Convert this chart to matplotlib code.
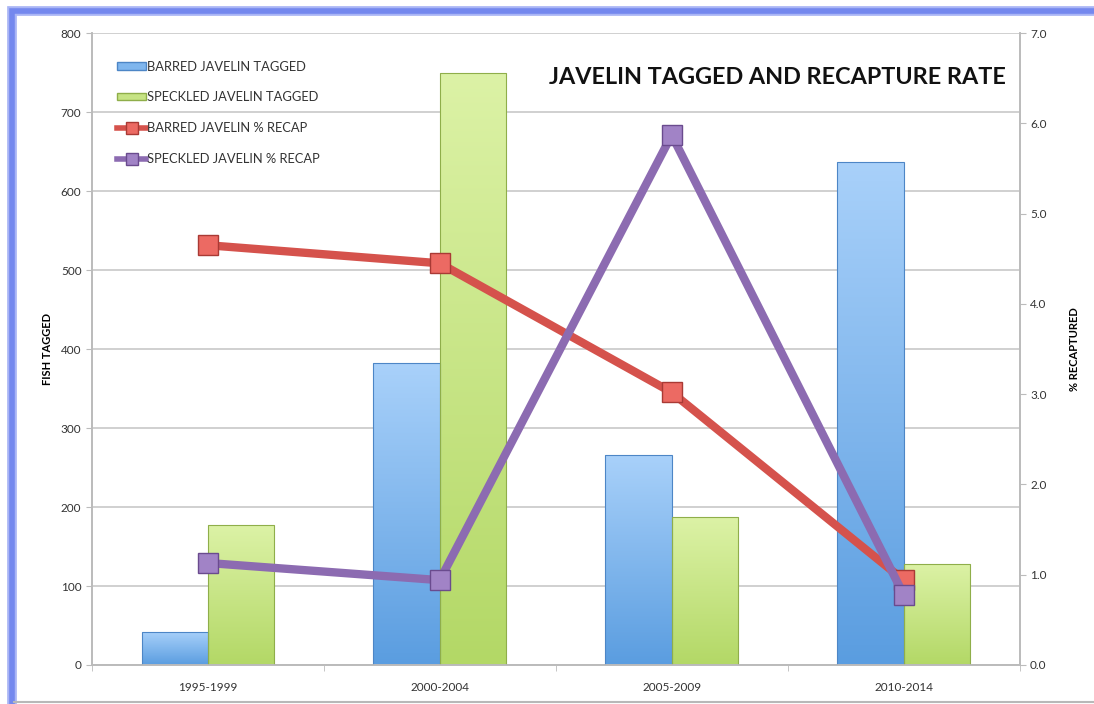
import numpy as np
import matplotlib.pyplot as plt
from matplotlib.patches import Rectangle, Patch
from matplotlib.lines import Line2D
from matplotlib.colors import LinearSegmentedColormap

# data
periods = ['1995-1999', '2000-2004', '2005-2009', '2010-2014']
barred_tagged = [42, 382, 266, 637]
speckled_tagged = [177, 749, 187, 128]
barred_recap = [4.65, 4.45, 3.02, 0.94]
speckled_recap = [1.13, 0.94, 5.87, 0.78]

plt.rcParams['font.family'] = ['Lato', 'DejaVu Sans']

fig = plt.figure(figsize=(10.94, 7.04), dpi=100)

# blue frame on the left and top, grey edge at the bottom
W, H = 1094, 704
fig.patches.append(Rectangle((11.5 / W, -0.1), 1.2, 1.1 - 11.5 / H, transform=fig.transFigure,
                             fill=False, edgecolor='#a9b5f5', linewidth=7, zorder=0))
fig.patches.append(Rectangle((11.5 / W, -0.1), 1.2, 1.1 - 11.5 / H, transform=fig.transFigure,
                             fill=False, edgecolor='#7488ee', linewidth=4, zorder=0))
fig.add_artist(Line2D([14 / W, 1], [2.5 / H, 2.5 / H], transform=fig.transFigure,
                      color='#b8b8b8', linewidth=1.5))

ax = fig.add_axes([0.084, 0.0554, 0.848, 0.8976])
ax2 = ax.twinx()

x = np.arange(len(periods))
w = 0.286

blue_cmap = LinearSegmentedColormap.from_list('b', ['#5a9de0', '#a9d1fa'])
green_cmap = LinearSegmentedColormap.from_list('g', ['#b3d866', '#dcf2a6'])

def gradient_bars(xs, heights, cmap, edge):
    bars = ax.bar(xs, heights, w, color='none', edgecolor=edge, linewidth=0.8, zorder=3)
    grad = np.linspace(0, 1, 256).reshape(-1, 1)
    for b in bars:
        im = ax.imshow(grad, cmap=cmap, origin='lower', aspect='auto',
                       extent=[b.get_x(), b.get_x() + b.get_width(), 0, b.get_height()],
                       zorder=2)
        im.set_clip_path(b)
    return bars

gradient_bars(x - w / 2, barred_tagged, blue_cmap, '#4d86c6')
gradient_bars(x + w / 2, speckled_tagged, green_cmap, '#8fae4a')

ax.set_xlim(-0.5, 3.5)
ax.set_ylim(0, 800)
ax.set_yticks(range(0, 801, 100))
ax.set_xticks(x)
ax.set_xticklabels(periods)
ax.set_xticks(np.arange(-0.5, 4, 1), minor=True)
ax.tick_params(axis='x', which='major', length=0, pad=12, labelsize=8.5, colors='#333333')
ax.tick_params(axis='x', which='minor', length=4, color='#bbbbbb')
ax.tick_params(axis='y', length=4, color='#bbbbbb', labelsize=8.5, colors='#333333')
ax.grid(axis='y', color='#c8c8c8', linewidth=1.2, zorder=0)
ax.set_axisbelow(True)
ax.set_ylabel('FISH TAGGED', fontsize=8, fontweight='bold', labelpad=6)

ax2.set_ylim(0, 7)
ax2.set_yticks(np.arange(0, 7.1, 1))
ax2.set_yticklabels([f'{v:.1f}' for v in np.arange(0, 7.1, 1)])
ax2.tick_params(axis='y', length=4, color='#bbbbbb', labelsize=8.5, colors='#333333')
ax2.set_ylabel('% RECAPTURED', fontsize=8, fontweight='bold', labelpad=16)

for a in (ax, ax2):
    for s in a.spines.values():
        s.set_color('#bbbbbb')
        s.set_linewidth(1.2)
    a.spines['top'].set_visible(False)

ax2.plot(x, barred_recap, color='#d5524c', linewidth=6, marker='s', markersize=15,
         markerfacecolor='#ec6a63', markeredgecolor='#a93a35', markeredgewidth=1,
         zorder=5, solid_capstyle='round')
ax2.plot(x, speckled_recap, color='#8c6bb1', linewidth=6, marker='s', markersize=15,
         markerfacecolor='#a183c6', markeredgecolor='#6a4b8e', markeredgewidth=1,
         zorder=6, solid_capstyle='round')

# legend
handles = [
    Patch(facecolor='#7fb6ee', edgecolor='#4d86c6'),
    Patch(facecolor='#c6e384', edgecolor='#8fae4a'),
    Line2D([], [], color='#d5524c', linewidth=4, marker='s', markersize=8,
           markerfacecolor='#ec6a63', markeredgecolor='#a93a35'),
    Line2D([], [], color='#8c6bb1', linewidth=4, marker='s', markersize=8,
           markerfacecolor='#a183c6', markeredgecolor='#6a4b8e'),
]
labels = ['BARRED JAVELIN TAGGED', 'SPECKLED JAVELIN TAGGED',
          'BARRED JAVELIN % RECAP', 'SPECKLED JAVELIN % RECAP']
leg = ax2.legend(handles, labels, loc='upper left', bbox_to_anchor=(0.015, 0.975),
                 frameon=False, fontsize=9.3, handlelength=2.2, handleheight=0.5,
                 handletextpad=0.1, labelspacing=1.45)
for t in leg.get_texts():
    t.set_color('#333333')

ax2.text(0.985, 0.93, 'JAVELIN TAGGED AND RECAPTURE RATE', transform=ax2.transAxes,
         ha='right', va='center', fontsize=16.8, fontweight='bold', color='#111111')

fig.savefig('out.png', dpi=100)
